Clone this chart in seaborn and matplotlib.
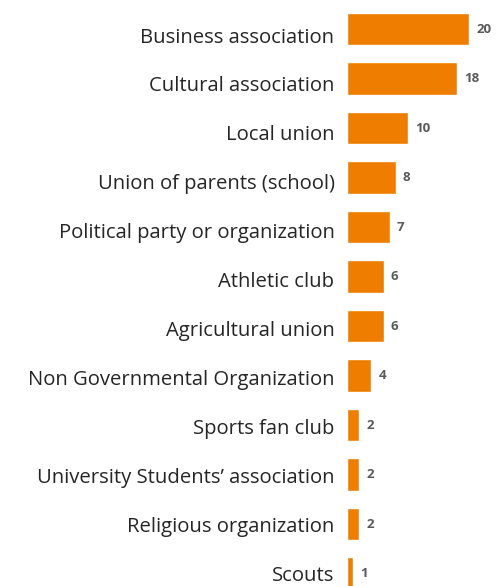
import matplotlib
matplotlib.use("Agg")
import matplotlib.pyplot as plt
import matplotlib.transforms as mtransforms
import seaborn as sns

# Membership counts by type of association
categories = ["Business association", "Cultural association", "Local union",
              "Union of parents (school)", "Political party or organization",
              "Athletic club", "Agricultural union", "Non Governmental Organization",
              "Sports fan club", "University Students\u2019 association",
              "Religious organization", "Scouts"]
counts = [20, 18, 10, 8, 7, 6, 6, 4, 2, 2, 2, 1]

sns.set_theme(style="white")
plt.rcParams['font.family'] = ['Open Sans', 'DejaVu Sans']

fig = plt.figure(figsize=(4.99, 5.86), dpi=100)
ax = fig.add_axes([347 / 499, 0, 152 / 499, 1])

sns.barplot(x=counts, y=categories, color="#EF7D00", saturation=1,
            width=0.66, orient="h", ax=ax)

ax.set_xlim(0, 24.9)
ax.set_ylim(11.25, -0.586)
ax.bar_label(ax.containers[0], padding=5, fontsize=9.5, fontweight="bold",
             color="#595959")

ax.set_xticks([])
ax.set_xlabel("")
ax.set_ylabel("")
ax.tick_params(axis="y", length=0, pad=9, labelsize=14.6, labelcolor="#262626")
sns.despine(ax=ax, left=True, bottom=True)

# in the original the labels drift slightly against the bars:
# a bit lower at the top, level with the bar at the bottom
for i, lab in enumerate(ax.get_yticklabels()):
    dy = -(6 - 0.55 * i) / 100
    lab.set_transform(lab.get_transform()
                      + mtransforms.ScaledTranslation(0, dy, fig.dpi_scale_trans))

fig.savefig("out.png", dpi=100)
